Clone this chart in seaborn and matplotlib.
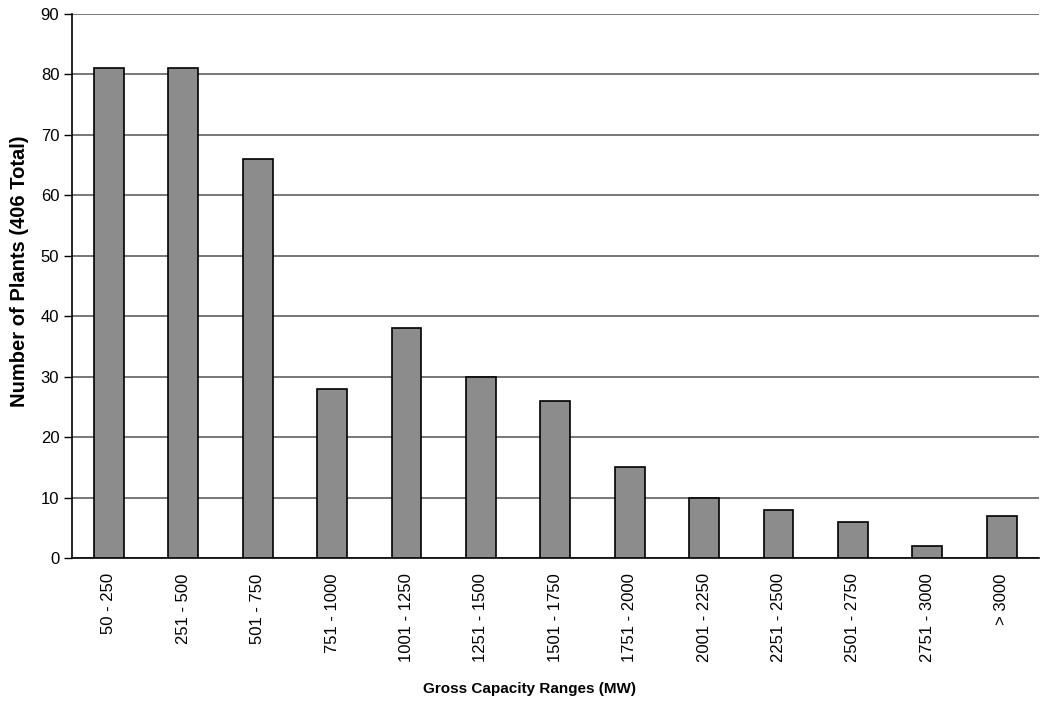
import numpy as np
import matplotlib
matplotlib.use("Agg")
import matplotlib.pyplot as plt
import seaborn as sns
import pandas as pd

# capacity ranges and plant counts
ranges = ["50 - 250", "251 - 500", "501 - 750", "751 - 1000", "1001 - 1250",
          "1251 - 1500", "1501 - 1750", "1751 - 2000", "2001 - 2250",
          "2251 - 2500", "2501 - 2750", "2751 - 3000", "> 3000"]
plants = [81, 81, 66, 28, 38, 30, 26, 15, 10, 8, 6, 2, 7]

sns.set_style("white")
plt.rcParams['font.family'] = ['Liberation Sans', 'DejaVu Sans']
plt.rcParams['text.color'] = 'black'
plt.rcParams['axes.labelcolor'] = 'black'
plt.rcParams['xtick.color'] = 'black'
plt.rcParams['ytick.color'] = 'black'

df = pd.DataFrame({"range": ranges, "plants": plants})

fig = plt.figure(figsize=(10.4, 7.02), dpi=100)
ax = fig.add_axes([0.069, 0.205, 0.93, 0.775])

sns.barplot(data=df, x="range", y="plants", color="#8c8c8c", width=0.4,
            edgecolor="black", linewidth=1.2, saturation=1, ax=ax, zorder=3)

ax.set_ylim(0, 90)
ax.set_xlim(-0.5, len(ranges) - 0.5)
ax.set_yticks(np.arange(0, 91, 10))
ax.yaxis.grid(True, color="#606060", linewidth=1.2, zorder=0)
ax.set_axisbelow(True)

for s in ["top", "right"]:
    ax.spines[s].set_visible(False)
for s in ["left", "bottom"]:
    ax.spines[s].set_color("black")
    ax.spines[s].set_linewidth(1.2)

# ticks between categories, like the original
ax.set_xticks(np.arange(len(ranges)))
ax.set_xticklabels(ranges, rotation=90, fontsize=12)
ax.set_xticks(np.arange(-0.5, len(ranges)), minor=True)
ax.tick_params(axis="x", which="major", length=0, pad=11)
ax.tick_params(axis="x", which="minor", length=6, width=1, color="black", direction="out")
ax.tick_params(axis="y", length=6, width=1, color="black", direction="out", labelsize=12, left=True, pad=3)

ax.set_xlabel("Gross Capacity Ranges (MW)", fontsize=11, fontweight="bold")
ax.set_ylabel("Number of Plants (406 Total)", fontsize=14.5, fontweight="bold")
ax.xaxis.set_label_coords(0.473, -0.228)
ax.yaxis.set_label_coords(-0.044, 0.528)

fig.savefig("out.png", dpi=100)
